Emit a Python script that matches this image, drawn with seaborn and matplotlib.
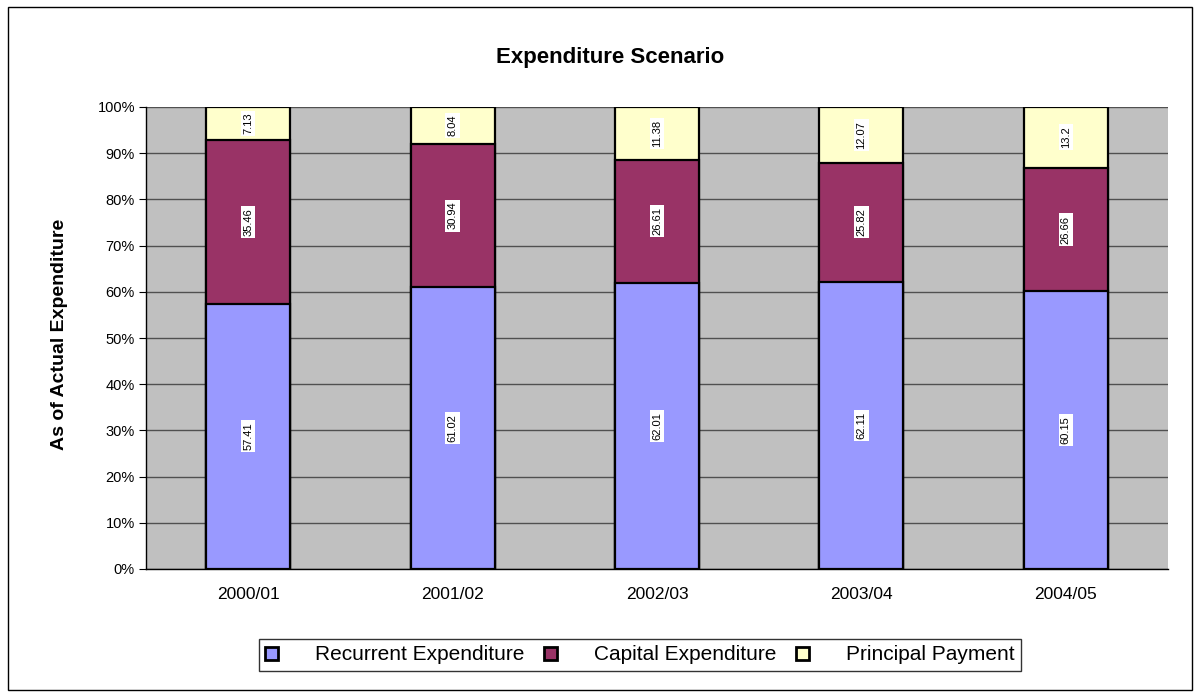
import numpy as np
import pandas as pd
import seaborn as sns
import matplotlib.pyplot as plt
from matplotlib.patches import Patch, Rectangle
from matplotlib.ticker import PercentFormatter, FixedLocator

years = ['2000/01', '2001/02', '2002/03', '2003/04', '2004/05']
recurrent = [57.41, 61.02, 62.01, 62.11, 60.15]
capital = [35.46, 30.94, 26.61, 25.82, 26.66]
principal = [7.13, 8.04, 11.38, 12.07, 13.2]

c_rec, c_cap, c_pri = '#9999FF', '#993366', '#FFFFCC'

df = pd.DataFrame({'Year': years, 'rec': recurrent, 'cap': capital, 'pri': principal})
df['top'] = df['rec'] + df['cap'] + df['pri']
df['mid'] = df['rec'] + df['cap']

sns.set_style('white')
plt.rcParams['font.family'] = ['Liberation Sans', 'DejaVu Sans']
plt.rcParams['text.color'] = 'black'
plt.rcParams['axes.labelcolor'] = 'black'
plt.rcParams['xtick.color'] = 'black'
plt.rcParams['ytick.color'] = 'black'

fig = plt.figure(figsize=(12, 6.97), dpi=100)
ax = fig.add_axes([146 / 1200, 1 - 569 / 697, 1022 / 1200, 462 / 697])
ax.set_facecolor('#C0C0C0')

# stacked bars: draw cumulative totals back to front
for col, color in [('top', c_pri), ('mid', c_cap), ('rec', c_rec)]:
    sns.barplot(data=df, x='Year', y=col, color=color, saturation=1, width=0.41,
                edgecolor='black', linewidth=1.6, ax=ax, zorder=3)

# value labels in middle of each segment
for i in range(len(years)):
    bottoms = [0, recurrent[i], recurrent[i] + capital[i]]
    for b, v in zip(bottoms, [recurrent[i], capital[i], principal[i]]):
        ax.text(i, b + v / 2, f'{v:g}', rotation=90, ha='center', va='center',
                fontsize=8, zorder=5,
                bbox=dict(facecolor='white', edgecolor='none', pad=1.5))

ax.set_ylim(0, 100)
ax.set_xlim(-0.5, len(years) - 0.5)
ax.yaxis.set_major_locator(FixedLocator(np.arange(0, 101, 10)))
ax.yaxis.set_major_formatter(PercentFormatter(decimals=0))
ax.grid(axis='y', color='#505050', linewidth=1, zorder=0)
ax.set_axisbelow(True)

ax.set_xticks(range(len(years)))
ax.set_xticklabels(years)
ax.xaxis.set_minor_locator(FixedLocator(np.arange(-0.5, len(years), 1)))
ax.tick_params(axis='x', which='major', length=0, pad=13, labelsize=12.5)
ax.tick_params(axis='x', which='minor', length=5, direction='out', color='black')
ax.tick_params(axis='y', length=5, direction='out', color='black', labelsize=10.5, left=True, pad=3)

for side in ['top', 'right']:
    ax.spines[side].set_visible(False)
ax.spines['left'].set_color('black')
ax.spines['bottom'].set_color('black')
ax.spines['left'].set_linewidth(1)
ax.spines['bottom'].set_linewidth(1)

ax.set_xlabel('')
ax.set_ylabel('')
fig.text(59 / 1200, 1 - 334 / 697, 'As of Actual Expenditure', rotation=90,
         ha='center', va='center', fontsize=14, fontweight='bold')
fig.text(610 / 1200, 1 - 57 / 697, 'Expenditure Scenario', ha='center', va='center',
         fontsize=16, fontweight='bold')

handles = [Patch(facecolor=c, edgecolor='black', linewidth=2) for c in [c_rec, c_cap, c_pri]]
leg = fig.legend(handles, ['Recurrent Expenditure', 'Capital Expenditure', 'Principal Payment'],
                 loc='center', bbox_to_anchor=(640 / 1200, 1 - 655 / 697), ncol=3,
                 fontsize=15, frameon=True, fancybox=False, edgecolor='black',
                 handlelength=0.6, handleheight=0.6, handletextpad=1.8, columnspacing=0.95,
                 borderpad=0.3, borderaxespad=0)
leg.get_frame().set_linewidth(1)

fig.patches.append(Rectangle((8 / 1200, 7 / 697), 1184 / 1200, 683 / 697,
                             transform=fig.transFigure, fill=False,
                             edgecolor='black', linewidth=1))

fig.savefig('out.png', dpi=100)
